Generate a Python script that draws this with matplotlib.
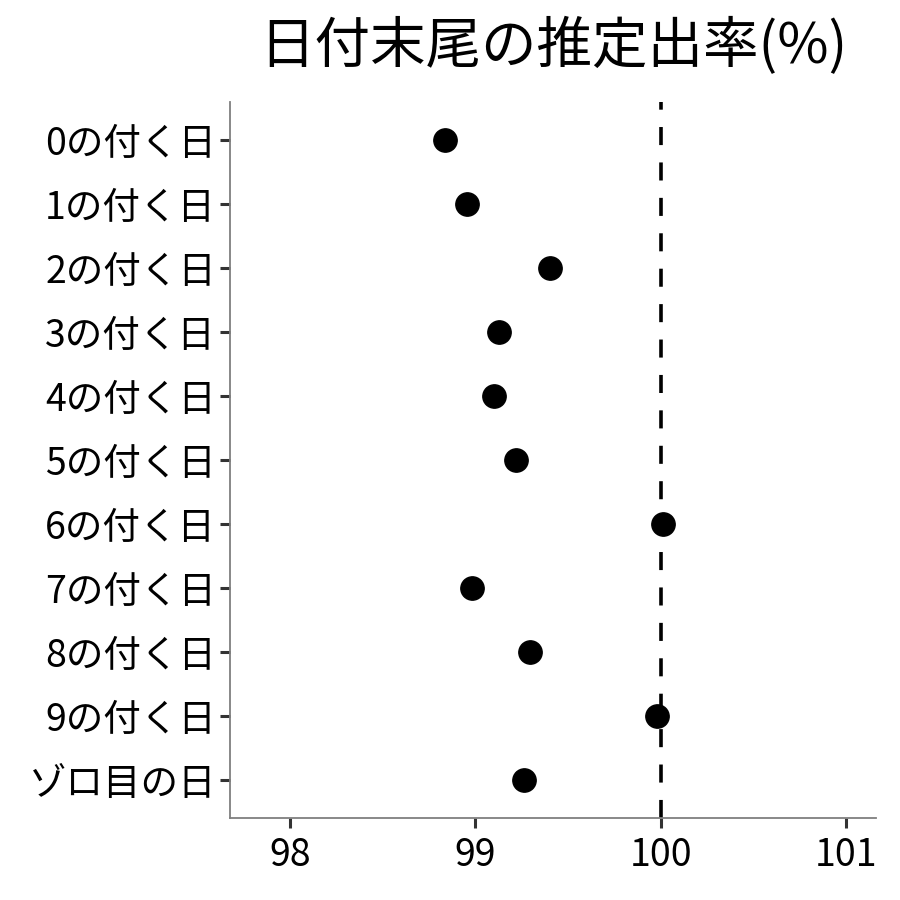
import matplotlib
matplotlib.use("Agg")
import matplotlib.pyplot as plt

plt.rcParams['font.family'] = ['Noto Sans CJK JP', 'DejaVu Sans']

categories = ["0の付く日", "1の付く日", "2の付く日", "3の付く日", "4の付く日",
              "5の付く日", "6の付く日", "7の付く日", "8の付く日", "9の付く日", "ゾロ目の日"]
values = [98.836, 98.955, 99.403, 99.128, 99.101, 99.220, 100.01, 98.98, 99.295, 99.98, 99.263]
xticks = [98, 99, 100, 101]
title = "日付末尾の推定出率(%)"

fig = plt.figure(figsize=(9, 9), dpi=100)
ax = fig.add_axes([230/900, 1-818/900, (876-230)/900, (818-102)/900])

ypos = list(range(len(categories)))
ax.axvline(100, color='black', lw=2.6, linestyle=(0, (13/2.6, 12.5/2.6)), zorder=1)
ax.plot(values, ypos, 'o', color='black', ms=16.8, zorder=3, clip_on=False)

ax.set_xlim(97.676, 101.16)
ax.set_ylim(len(categories) - 0.4, -0.6)
ax.set_yticks(ypos)
ax.set_yticklabels(categories)
ax.set_xticks(xticks)
ax.set_xticklabels([str(x) for x in xticks])

for s in ['top', 'right']:
    ax.spines[s].set_visible(False)
for s in ['left', 'bottom']:
    ax.spines[s].set_color('#7f7f7f')
    ax.spines[s].set_linewidth(1.3)
ax.tick_params(axis='both', colors='#333333', width=2.2, length=7, labelsize=27, labelcolor='black', pad=3)
ax.tick_params(axis='x', pad=6)

fig.text((230+876)/2/900, 1-47/900, title, ha='center', va='center', fontsize=40, color='black')

fig.savefig('out.png', dpi=100, facecolor='white')
